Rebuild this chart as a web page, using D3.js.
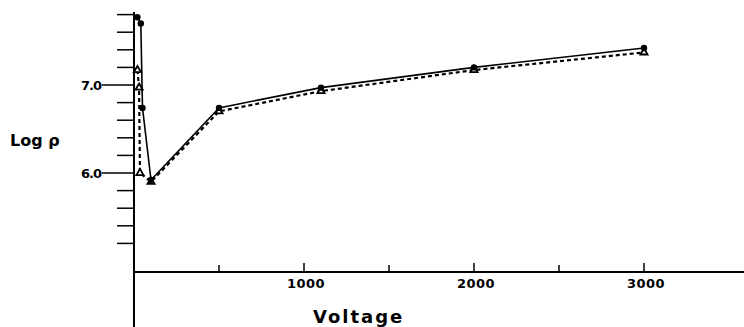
<!DOCTYPE html>
<html>
<head>
<meta charset="utf-8">
<script src="https://cdn.jsdelivr.net/npm/d3@7"></script>
<style>
  body { margin: 0; background: #fff; }
  text { font-family: "DejaVu Sans", "Liberation Sans", sans-serif; font-weight: bold; fill: #000; }
</style>
</head>
<body>
<script>
var width = 744
var height = 327

// solid line, filled circles
var solidV = [20, 40, 50, 100, 500, 1100, 2000, 3000]
var solidLog = [7.77, 7.70, 6.74, 5.92, 6.74, 6.97, 7.20, 7.42]
// dashed line, open triangles
var dashV = [20, 30, 35, 100, 500, 1100, 2000, 3000]
var dashLog = [7.17, 6.97, 6.00, 5.90, 6.70, 6.93, 7.17, 7.37]

var xTicks = [500, 1000, 1500, 2000, 2500, 3000]
var xLabels = [1000, 2000, 3000]
var yMinor = [7.8, 7.6, 7.4, 7.2, 6.8, 6.6, 6.4, 6.2, 5.8, 5.6, 5.4, 5.2]
var yMajor = [7.0, 6.0]

var x = d3.scaleLinear().domain([0, 1000]).range([134, 304])
var y = d3.scaleLinear().domain([6, 7]).range([173, 85])
var axisY = 272

var svg = d3.select("body").append("svg")
  .attr("width", width)
  .attr("height", height)

// axes
svg.append("line")
  .attr("x1", x(0)).attr("x2", width)
  .attr("y1", axisY).attr("y2", axisY)
  .attr("stroke", "#000").attr("stroke-width", 2)
svg.append("line")
  .attr("x1", x(0)).attr("x2", x(0))
  .attr("y1", 12).attr("y2", height)
  .attr("stroke", "#000").attr("stroke-width", 2)

svg.selectAll(".xtick")
  .data(xTicks)
  .enter().append("line")
  .attr("class", "xtick")
  .attr("x1", function (d) { return x(d) }).attr("x2", function (d) { return x(d) })
  .attr("y1", axisY).attr("y2", function (d) { return d % 1000 ? axisY - 7 : axisY - 9 })
  .attr("stroke", "#000").attr("stroke-width", 1.5)

svg.selectAll(".xlabel")
  .data(xLabels)
  .enter().append("text")
  .attr("class", "xlabel")
  .attr("x", function (d) { return x(d) + 2 })
  .attr("y", 288)
  .attr("text-anchor", "middle")
  .attr("font-size", 13)
  .attr("letter-spacing", 0.5)
  .text(function (d) { return d })

svg.selectAll(".yminor")
  .data(yMinor)
  .enter().append("line")
  .attr("class", "yminor")
  .attr("x1", x(0) - 17).attr("x2", x(0))
  .attr("y1", function (d) { return y(d) }).attr("y2", function (d) { return y(d) })
  .attr("stroke", "#000").attr("stroke-width", 1.5)

svg.selectAll(".ymajor")
  .data(yMajor)
  .enter().append("line")
  .attr("class", "ymajor")
  .attr("x1", x(0) - 32).attr("x2", x(0))
  .attr("y1", function (d) { return y(d) }).attr("y2", function (d) { return y(d) })
  .attr("stroke", "#000").attr("stroke-width", 1.5)

svg.selectAll(".ylabel")
  .data(yMajor)
  .enter().append("text")
  .attr("class", "ylabel")
  .attr("x", 101)
  .attr("y", function (d) { return y(d) + 5 })
  .attr("text-anchor", "end")
  .attr("font-size", 13)
  .attr("letter-spacing", -1)
  .text(function (d) { return d.toFixed(1) })

svg.append("text")
  .attr("x", 10).attr("y", 146)
  .attr("font-size", 16)
  .text("Log ρ")

svg.append("text")
  .attr("x", 313).attr("y", 323)
  .attr("font-size", 18)
  .attr("letter-spacing", 2)
  .text("Voltage")

// data lines
var solid = solidV.map(function (v, i) { return [v, solidLog[i]] })
var dashed = dashV.map(function (v, i) { return [v, dashLog[i]] })

var line = d3.line()
  .x(function (d) { return x(d[0]) })
  .y(function (d) { return y(d[1]) })

svg.append("path")
  .datum(dashed)
  .attr("d", line)
  .attr("fill", "none")
  .attr("stroke", "#000")
  .attr("stroke-width", 2.2)
  .attr("stroke-dasharray", "4,3")

svg.append("path")
  .datum(solid)
  .attr("d", line)
  .attr("fill", "none")
  .attr("stroke", "#000")
  .attr("stroke-width", 1.6)

svg.selectAll(".tri")
  .data(dashed)
  .enter().append("path")
  .attr("class", "tri")
  .attr("d", d3.symbol().type(d3.symbolTriangle).size(22))
  .attr("transform", function (d) { return "translate(" + x(d[0]) + "," + y(d[1]) + ")" })
  .attr("fill", "#fff")
  .attr("stroke", "#000")
  .attr("stroke-width", 1.8)

svg.selectAll(".dot")
  .data(solid)
  .enter().append("circle")
  .attr("class", "dot")
  .attr("cx", function (d) { return x(d[0]) })
  .attr("cy", function (d) { return y(d[1]) })
  .attr("r", 3.2)
  .attr("fill", "#000")
</script>
</body>
</html>
